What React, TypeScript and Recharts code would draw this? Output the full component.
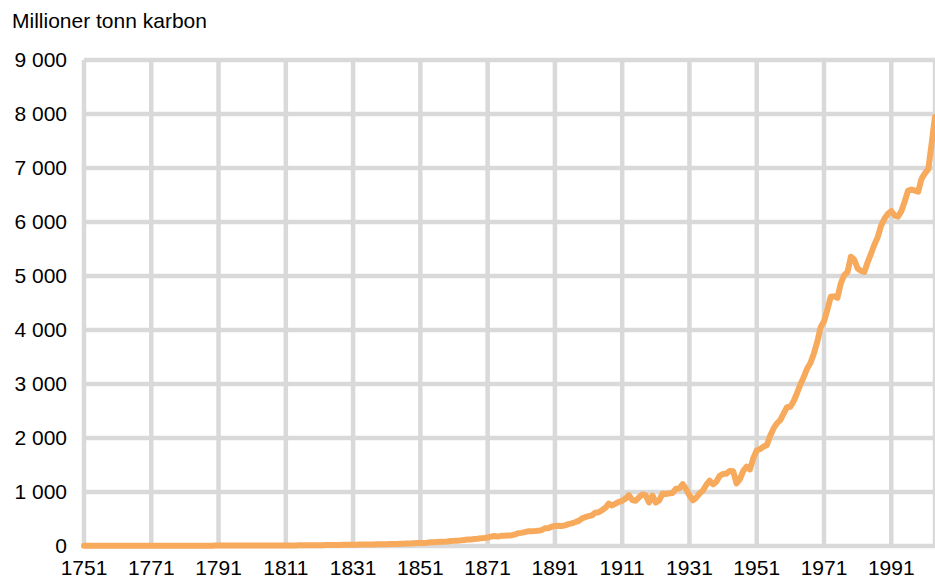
import React from 'react';
import { LineChart, Line, XAxis, YAxis, CartesianGrid } from 'recharts';

// Global carbon emissions, million tonnes of carbon, 1751-2004
const firstYear = 1751;

const emissions = [
  // 1751-1760
  3, 3, 3, 3, 3, 3, 3, 3, 3, 3,
  // 1761-1770
  3, 3, 3, 3, 3, 3, 3, 3, 3, 3,
  // 1771-1780
  4, 4, 4, 4, 4, 4, 4, 4, 4, 4,
  // 1781-1790
  5, 5, 5, 5, 5, 5, 6, 6, 6, 7,
  // 1791-1800
  7, 7, 7, 7, 7, 7, 7, 8, 8, 8,
  // 1801-1810
  8, 9, 9, 9, 9, 10, 10, 10, 10, 10,
  // 1811-1820
  10, 11, 11, 11, 12, 13, 13, 14, 14, 14,
  // 1821-1830
  15, 16, 17, 17, 18, 19, 20, 21, 22, 24,
  // 1831-1840
  24, 25, 26, 27, 28, 29, 30, 31, 32, 33,
  // 1841-1850
  34, 36, 37, 39, 43, 43, 46, 47, 50, 54,
  // 1851-1860
  54, 57, 59, 69, 71, 76, 77, 78, 83, 91,
  // 1861-1870
  95, 97, 104, 112, 119, 122, 130, 135, 142, 147,
  // 1871-1880
  156, 173, 184, 174, 188, 191, 194, 196, 210, 236,
  // 1881-1890
  243, 256, 272, 275, 277, 281, 295, 327, 327, 356,
  // 1891-1900
  372, 374, 370, 383, 406, 419, 440, 465, 507, 534,
  // 1901-1910
  552, 566, 617, 624, 663, 707, 784, 750, 785, 819,
  // 1911-1920
  836, 879, 943, 850, 838, 901, 955, 936, 806, 932,
  // 1921-1930
  803, 845, 970, 963, 975, 983, 1062, 1065, 1145, 1053,
  // 1931-1940
  940, 847, 893, 973, 1027, 1130, 1209, 1142, 1192, 1299,
  // 1941-1950
  1334, 1342, 1391, 1383, 1160, 1238, 1392, 1469, 1419, 1630,
  // 1951-1960
  1767, 1795, 1841, 1865, 2042, 2177, 2270, 2330, 2454, 2569,
  // 1961-1970
  2580, 2686, 2833, 2995, 3130, 3288, 3393, 3566, 3780, 4053,
  // 1971-1980
  4160, 4376, 4614, 4623, 4596, 4864, 5016, 5074, 5357, 5301,
  // 1981-1990
  5138, 5094, 5075, 5258, 5417, 5583, 5725, 5936, 6066, 6150,
  // 1991-2000
  6200, 6120, 6100, 6200, 6380, 6580, 6600, 6580, 6560, 6800,
  // 2001-2004
  6900, 6980, 7450, 7950,
];

const xTicks = [1751, 1771, 1791, 1811, 1831, 1851, 1871, 1891, 1911, 1931, 1951, 1971, 1991];
const yTicks = [0, 1000, 2000, 3000, 4000, 5000, 6000, 7000, 8000, 9000];
const yTickLabels = ['0', '1 000', '2 000', '3 000', '4 000', '5 000', '6 000', '7 000', '8 000', '9 000'];

const data = emissions.map((value, i) => ({ year: firstYear + i, value }));

const font = '"Liberation Sans", Arial, sans-serif';

export default function App() {
  return (
    <div style={{ position: 'absolute', left: 0, top: 0, width: 935, height: 580, fontFamily: font }}>
      <div
        style={{
          position: 'absolute',
          left: 12,
          top: 10,
          fontSize: 21,
          lineHeight: '21px',
          color: '#000',
        }}
      >
        Millioner tonn karbon
      </div>
      <LineChart
        width={935}
        height={580}
        data={data}
        margin={{ top: 60, right: 0, bottom: 0, left: 0 }}
      >
        <CartesianGrid stroke="#d9d9d9" strokeWidth={4.5} />
        <XAxis
          dataKey="year"
          type="number"
          domain={[1751, 2004]}
          ticks={xTicks}
          interval={0}
          axisLine={false}
          tickLine={false}
          tickSize={0}
          tickMargin={14}
          height={34}
          tick={{ fill: '#000', fontSize: 21, fontFamily: font }}
        />
        <YAxis
          domain={[0, 9000]}
          ticks={yTicks}
          interval={0}
          width={84}
          axisLine={false}
          tickLine={false}
          tickSize={0}
          tickMargin={17}
          tickFormatter={(v: number) => yTickLabels[yTicks.indexOf(v)]}
          tick={{ fill: '#000', fontSize: 21, fontFamily: font }}
        />
        <Line
          type="linear"
          dataKey="value"
          stroke="#f7a95c"
          strokeWidth={6}
          dot={false}
          strokeLinejoin="round"
          strokeLinecap="round"
          isAnimationActive={false}
        />
      </LineChart>
    </div>
  );
}
